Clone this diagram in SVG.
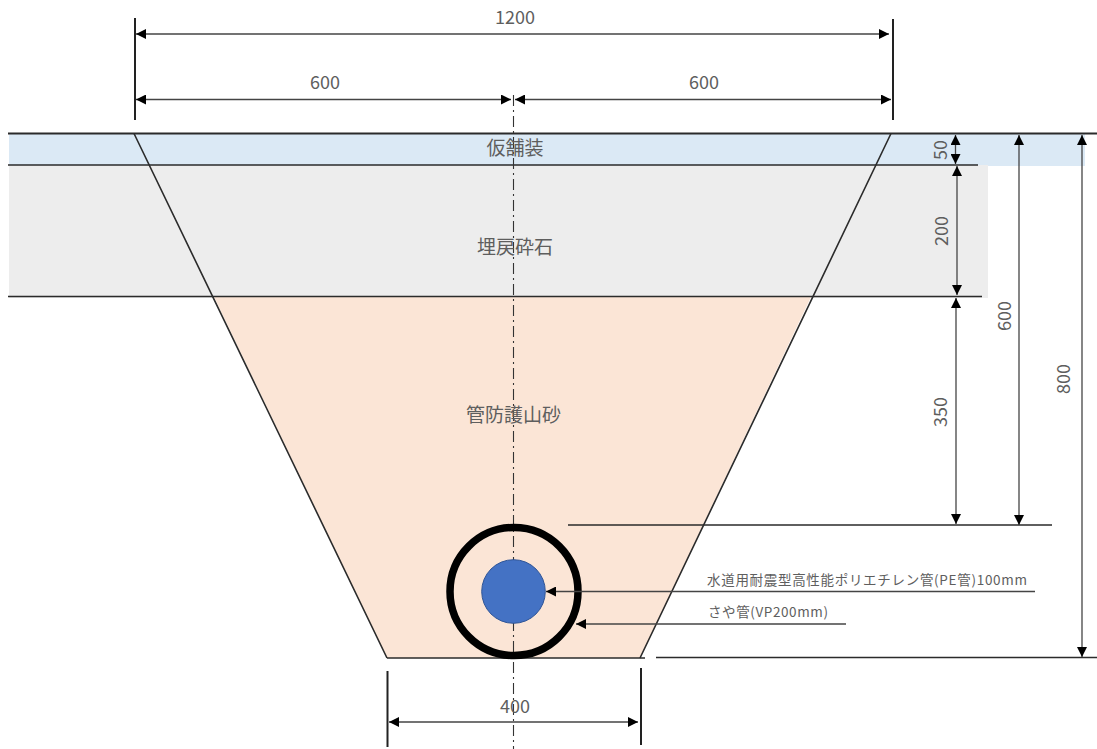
<svg xmlns="http://www.w3.org/2000/svg" width="1097" height="749" viewBox="0 0 1097 749">
<style>
.l{stroke:#2b2b2b;stroke-width:1.6;fill:none}
.e{stroke:#222;stroke-width:2;fill:none}
.d{stroke:#444;stroke-width:1.3;fill:none;marker-start:url(#ah);marker-end:url(#ah)}
.a{stroke:#444;stroke-width:1.3;fill:none;marker-end:url(#ah)}
text{font-family:"Noto Sans CJK JP","Noto Sans",sans-serif;fill:#5e5e5e;text-anchor:middle}
.n{font-size:18px}
.j{font-size:19px}
.s{font-size:13.5px;text-anchor:start}
</style>
<defs>
<marker id="ah" viewBox="0 0 10 10" refX="10" refY="5" markerWidth="10" markerHeight="10" markerUnits="userSpaceOnUse" orient="auto-start-reverse"><path d="M0 0L10 5L0 10Z" fill="#000"/></marker>
</defs>
<g id="layers">
<rect id="pavement" x="9" y="134" width="1076" height="32" fill="#dbe9f5"/>
<rect id="gravel" x="9" y="165" width="979" height="133" fill="#ededed"/>
<path id="sand" d="M214 297H811L640 658H387Z" fill="#fbe5d6"/>
</g>
<g id="connectors">
<path class="l" d="M8 133.500H1097" style="stroke-width:2"/>
<path class="l" d="M8 165H978M8 296.500H982M568 525H1052M656 657.500H1097M387 658H645"/>
<path class="l" d="M134 133.500L387 658M891 133.500L640 658"/>
<path d="M513.500 95V749" stroke="#333" stroke-width="1.100" stroke-dasharray="11 4 2 4" fill="none"/>
<path class="e" d="M135 18V120M893 19V120M387.500 671V747M641 668V745"/>
<path class="d" d="M136 34H889"/>
<path class="d" d="M136 99.500H511"/>
<path class="d" d="M515 99.500H891"/>
<path class="d" d="M389 722H638"/>
<path class="d" d="M955.500 135V164"/>
<path class="d" d="M957 166V295"/>
<path class="d" d="M956 298V524"/>
<path class="d" d="M1019 135V525"/>
<path class="d" d="M1082 135V657"/>
</g>
<g id="pipes">
<circle id="sleeve" cx="514" cy="591.500" r="64" fill="none" stroke="#000" stroke-width="7.500"/>
<circle id="pe-pipe" cx="513.500" cy="591.500" r="31.800" fill="#4472c4" stroke="#2f5597" stroke-width="1"/>
</g>
<g id="leaders">
<path class="a" d="M1035 591.500H546"/>
<path class="a" d="M846 624H576"/>
</g>
<g id="labels">
<text class="n" x="515" y="24">1200</text>
<text class="n" x="325" y="89">600</text>
<text class="n" x="704" y="89">600</text>
<text class="n" x="515" y="713">400</text>
<text class="j" x="515" y="155">仮舗装</text>
<text class="j" x="515" y="254">埋戻砕石</text>
<text class="j" x="513.500" y="422">管防護山砂</text>
<text class="n" transform="translate(947 150) rotate(-90)">50</text>
<text class="n" transform="translate(948 231) rotate(-90)">200</text>
<text class="n" transform="translate(947 412) rotate(-90)">350</text>
<text class="n" transform="translate(1011 316) rotate(-90)">600</text>
<text class="n" transform="translate(1070 379) rotate(-90)">800</text>
<text class="s" x="707" y="585" textLength="320" lengthAdjust="spacing">水道用耐震型高性能ポリエチレン管(PE管)100mm</text>
<text class="s" x="708" y="617" textLength="120" lengthAdjust="spacing">さや管(VP200mm)</text>
</g>
</svg>
